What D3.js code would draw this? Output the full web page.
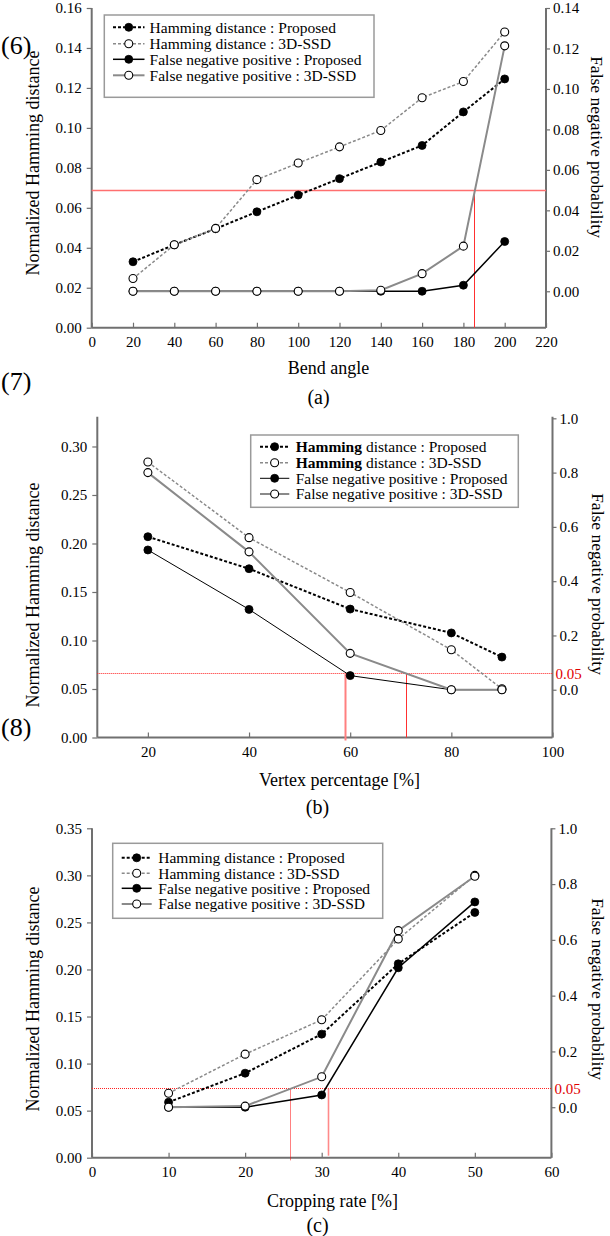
<!DOCTYPE html>
<html><head><meta charset="utf-8">
<script src="https://cdn.jsdelivr.net/npm/d3@7"></script>
<style>
body{margin:0;background:#fff}
svg{display:block}
text{font-family:"Liberation Serif","Times New Roman",serif;fill:#000}
</style>
</head><body><svg id="c" width="610" height="1236"></svg>
<script>
// ---------- DATA ----------
const seriesNames = ["Hamming distance : Proposed","Hamming distance : 3D-SSD","False negative positive : Proposed","False negative positive : 3D-SSD"];

// Panel (a) Bend angle
const aX = [20,40,60,80,100,120,140,160,180,200];
const aHamProp = [0.033,0.0415,0.0495,0.058,0.0664,0.0746,0.0829,0.0912,0.108,0.1245];
const aHam3D   = [0.0246,0.0415,0.0497,0.0741,0.0824,0.0905,0.0987,0.1151,0.1232,0.148];
const aFnpProp = [0,0,0,0,0,0,0,0,0.003,0.0246];
const aFnp3D   = [0,0,0,0,0,0,0.0005,0.0087,0.0223,0.1213];
const aXTicks = [0,20,40,60,80,100,120,140,160,180,200,220];
const aLTicks = [0,0.02,0.04,0.06,0.08,0.10,0.12,0.14,0.16];
const aRTicks = [0,0.02,0.04,0.06,0.08,0.10,0.12,0.14];
const aRedRight = 0.05;      // threshold on right axis
const aRedX = [185];

// Panel (b) Vertex percentage
const bX = [20,40,60,80,90];
const bHamProp = [0.207,0.174,0.1324,0.1078,0.0829];
const bHam3D   = [0.284,0.206,0.1495,0.0904,0.0502];
const bFnpProp = [0.515,0.296,0.052,0,0];
const bFnp3D   = [0.80,0.508,0.134,0,0];
const bXTicks = [20,40,60,80,100];
const bLTicks = [0,0.05,0.10,0.15,0.20,0.25,0.30];
const bRTicks = [0,0.2,0.4,0.6,0.8,1.0];
const bRedLeft = 0.0665;
const bRedX = [59,71];

// Panel (c) Cropping rate
const cX = [10,20,30,40,50];
const cHamProp = [0.059,0.0898,0.1313,0.206,0.2606];
const cHam3D   = [0.0685,0.110,0.1465,0.2323,0.300];
const cFnpProp = [0,0,0.044,0.50,0.736];
const cFnp3D   = [0,0.004,0.109,0.633,0.828];
const cXTicks = [0,10,20,30,40,50,60];
const cLTicks = [0,0.05,0.10,0.15,0.20,0.25,0.30,0.35];
const cRTicks = [0,0.2,0.4,0.6,0.8,1.0];
const cRedLeft = 0.0738;
const cRedX = [25.8,30.8];

const redLabel = "0.05";

// ---------- DRAW ----------
const svg = d3.select("#c");
const AX = "#707070";
const GREY = "#8a8a8a";

function drawPanel(p){
  const g = svg.append("g");
  const x = d3.scaleLinear().domain(p.xDomain).range([p.left,p.right]);
  const yL = d3.scaleLinear().domain(p.lDomain).range([p.bottom,p.top]);
  const yR = d3.scaleLinear().domain(p.rDomain).range([p.bottom,p.top]);

  // axes
  const ax = g.append("g").attr("transform",`translate(0,${p.bottom})`)
    .call(d3.axisBottom(x).tickValues(p.xTicks).tickSize(-5).tickPadding(9).tickFormat(d3.format("d")));
  const al = g.append("g").attr("transform",`translate(${p.left},0)`)
    .call(d3.axisLeft(yL).tickValues(p.lTicks).tickSize(5).tickPadding(5).tickFormat(d3.format(".2f")));
  const ar = g.append("g").attr("transform",`translate(${p.right},0)`)
    .call(d3.axisRight(yR).tickValues(p.rTicks).tickSize(4).tickPadding(3).tickFormat(d3.format(p.rFmt)));
  [ax,al,ar].forEach(a=>{
    a.select(".domain").attr("stroke",AX).attr("stroke-width",2);
    a.selectAll(".tick line").attr("stroke",AX).attr("stroke-width",1.2);
    a.selectAll(".tick text").attr("font-family","Liberation Serif").attr("font-size",15).attr("fill","#000");
  });
  ax.select(".domain").attr("d",`M${p.left},0H${p.right}`);
  al.select(".domain").attr("d",`M0,${p.bottom}V${p.top}`);
  ar.select(".domain").attr("d",`M0,${p.bottom}V${p.top}`);

  // red reference lines
  const hy = Math.round(p.redLeft!=null ? yL(p.redLeft) : yR(p.redRight)) + 0.5;
  g.append("line").attr("x1",p.left).attr("x2",p.right).attr("y1",hy).attr("y2",hy)
    .attr("stroke",p.redH.color).attr("stroke-width",p.redH.w).attr("stroke-dasharray",p.redH.dash||null);
  p.redX.forEach((v,i)=>{
    const st = p.redV[i];
    const xv = Math.round(x(v)) + 0.5;
    g.append("line").attr("x1",xv).attr("x2",xv).attr("y1",hy).attr("y2",p.bottom+st.ext)
      .attr("stroke",st.color).attr("stroke-width",st.w).attr("stroke-dasharray",st.dash||null);
  });
  if(p.redText){
    g.append("text").attr("x",p.right+3).attr("y",hy).attr("dy","0.35em")
      .attr("font-size",15).style("fill","#e00000").text(redLabel);
  }

  // series
  const series = [
    {vals:p.hamProp, y:yL, color:"#000", w:2, dash:"3,2", filled:true},
    {vals:p.fnpProp, y:yR, color:"#000", w:p.fnpW, dash:null, filled:true},
    {vals:p.ham3D, y:yL, color:GREY, w:1.5, dash:"3,2", filled:false},
    {vals:p.fnp3D, y:yR, color:GREY, w:2, dash:null, filled:false}
  ];
  series.forEach(s=>{
    const pts = p.xs.map((xv,i)=>[x(xv), s.y(s.vals[i])]);
    g.append("path").attr("d",d3.line()(pts)).attr("fill","none")
      .attr("stroke",s.color).attr("stroke-width",s.w).attr("stroke-dasharray",s.dash);
  });
  series.forEach(s=>{
    g.selectAll(null).data(p.xs).enter().append("circle")
      .attr("cx",(d)=>x(d)).attr("cy",(d,i)=>s.y(s.vals[i])).attr("r",4)
      .attr("fill",s.filled?"#000":"#fff").attr("stroke","#000").attr("stroke-width",s.filled?0.8:1.1);
  });

  // legend
  const L = p.legend;
  g.append("rect").attr("x",L.x0).attr("y",L.y0).attr("width",L.x1-L.x0).attr("height",L.y1-L.y0)
    .attr("fill","#fff").attr("stroke","#9a9a9a").attr("stroke-width",1.5);
  const legStyles = [series[0],series[2],series[1],series[3]];
  seriesNames.forEach((name,i)=>{
    const s = legStyles[i];
    const yy = L.rows[i];
    g.append("line").attr("x1",L.l0).attr("x2",L.l1).attr("y1",yy).attr("y2",yy)
      .attr("stroke",s.color).attr("stroke-width",s.w).attr("stroke-dasharray",s.dash);
    g.append("circle").attr("cx",(L.l0+L.l1)/2).attr("cy",yy).attr("r",4)
      .attr("fill",s.filled?"#000":"#fff").attr("stroke","#000").attr("stroke-width",s.filled?0.8:1.1);
    const t = g.append("text").attr("x",L.tx).attr("y",yy).attr("dy","0.35em").attr("font-size",15.5);
    if(L.boldHamming && name.startsWith("Hamming")){
      t.append("tspan").attr("font-weight","bold").text("Hamming");
      t.append("tspan").text(name.slice(7));
    } else t.text(name);
  });

  // titles
  g.append("text").attr("x",p.xTitle[0]).attr("y",p.xTitle[1]).attr("text-anchor","middle").attr("font-size",18).text(p.xLabel);
  g.append("text").attr("transform",`translate(${p.lTitle[0]},${p.lTitle[1]}) rotate(-90)`).attr("text-anchor","middle").attr("dy","0.35em").attr("font-size",18).text("Normalized Hamming distance");
  g.append("text").attr("transform",`translate(${p.rTitle[0]},${p.rTitle[1]}) rotate(90)`).attr("text-anchor","middle").attr("dy","0.35em").attr("font-size",17.5).text("False negative probability");
  g.append("text").attr("x",p.cap[0]).attr("y",p.cap[1]).attr("text-anchor","middle").attr("dy","0.35em").attr("font-size",20).text(p.capText);
}

drawPanel({
  left:91.7,right:546,top:8,bottom:327.7,
  xDomain:[0,220], lDomain:[0,0.16], rDomain:[-0.018,0.14], rFmt:".2f",
  xTicks:aXTicks,lTicks:aLTicks,rTicks:aRTicks,
  xs:aX,hamProp:aHamProp,ham3D:aHam3D,fnpProp:aFnpProp,fnp3D:aFnp3D,fnpW:1.5,
  redRight:aRedRight, redX:aRedX,
  redH:{color:"#ff6f6f",w:1.4}, redV:[{color:"#ff3030",w:1,ext:0}], redText:false,
  legend:{x0:104.3,x1:374,y0:15,y1:97.3,rows:[27.3,43.7,59.3,75.3],l0:113,l1:144.5,tx:149.6},
  xLabel:"Bend angle", xTitle:[328.5,374], lTitle:[33,163], rTitle:[597,147], cap:[318.5,397], capText:"(a)"
});
drawPanel({
  left:97.3,right:552.5,top:416.7,bottom:737.5,
  xDomain:[10,100], lDomain:[0,0.3307], rDomain:[-0.176,1.006], rFmt:".1f",
  xTicks:bXTicks,lTicks:bLTicks,rTicks:bRTicks,
  xs:bX,hamProp:bHamProp,ham3D:bHam3D,fnpProp:bFnpProp,fnp3D:bFnp3D,fnpW:1,
  redLeft:bRedLeft, redX:bRedX,
  redH:{color:"#ff2020",w:1,dash:"1,1"}, redV:[{color:"#ff8080",w:2,ext:3},{color:"#ff3030",w:1,ext:0}], redText:true,
  legend:{x0:250.7,x1:518.3,y0:435,y1:507.3,rows:[446.7,462.7,478.3,494],l0:260,l1:289.3,tx:295.7,boldHamming:true},
  xLabel:"Vertex percentage [%]", xTitle:[339.5,786], lTitle:[33,595], rTitle:[598,584], cap:[317.5,806.7], capText:"(b)"
});
drawPanel({
  left:92,right:551.4,top:828.3,bottom:1157.7,
  xDomain:[0,60], lDomain:[0,0.35], rDomain:[-0.181,1.0], rFmt:".1f",
  xTicks:cXTicks,lTicks:cLTicks,rTicks:cRTicks,
  xs:cX,hamProp:cHamProp,ham3D:cHam3D,fnpProp:cFnpProp,fnp3D:cFnp3D,fnpW:1.5,
  redLeft:cRedLeft, redX:cRedX,
  redH:{color:"#ff2020",w:1,dash:"1,1"}, redV:[{color:"#ff0000",w:1,ext:3,dash:"1,1"},{color:"#ff8a8a",w:1.6,ext:-2}], redText:true,
  legend:{x0:112.7,x1:382.7,y0:843.3,y1:918.3,rows:[857.8,873.3,888.3,904],l0:121.7,l1:151.7,tx:158.3},
  xLabel:"Cropping rate [%]", xTitle:[332.5,1207], lTitle:[33,999], rTitle:[598,989], cap:[317.5,1225], capText:"(c)"
});

// equation numbers
[["(6)",45],["(7)",381],["(8)",727]].forEach(([t,y])=>{
  svg.append("text").attr("x",1).attr("y",y).attr("dy","0.35em").attr("font-size",26).text(t);
});
</script>
</body></html>
